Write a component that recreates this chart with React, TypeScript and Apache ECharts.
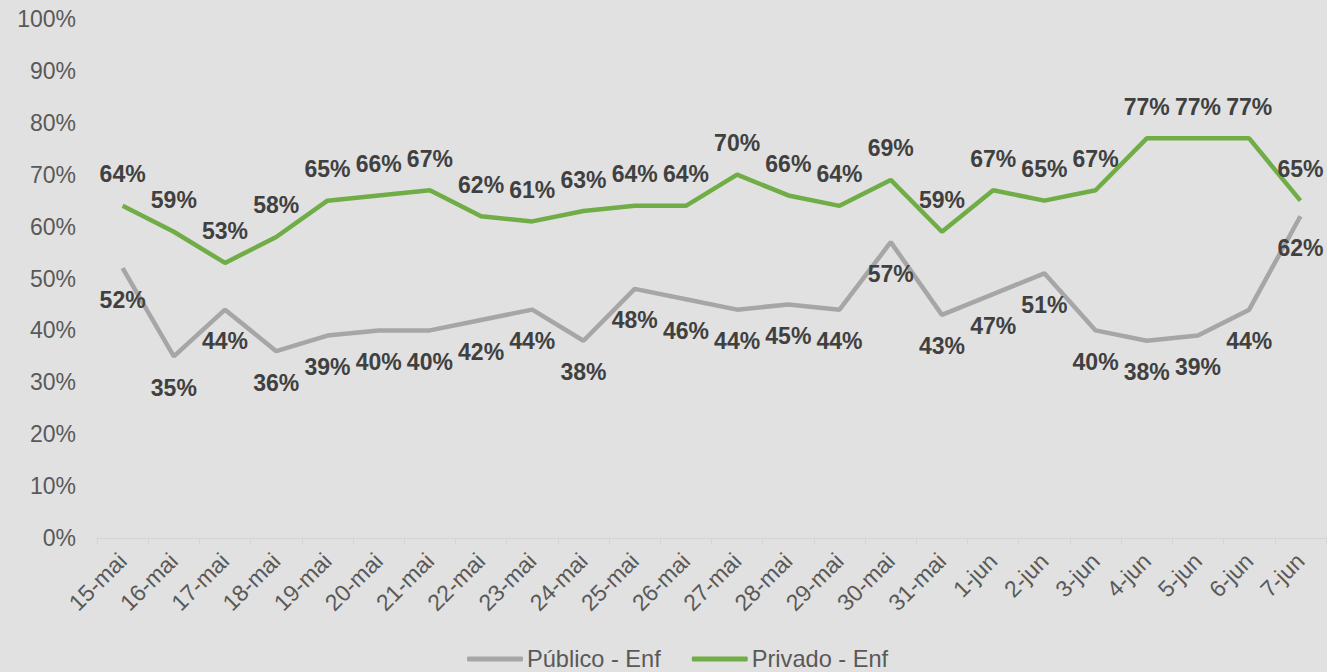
import React, { useEffect, useRef } from "react";
import * as echarts from "echarts";

const categories = [
  "15-mai", "16-mai", "17-mai", "18-mai", "19-mai", "20-mai", "21-mai", "22-mai",
  "23-mai", "24-mai", "25-mai", "26-mai", "27-mai", "28-mai", "29-mai", "30-mai",
  "31-mai", "1-jun", "2-jun", "3-jun", "4-jun", "5-jun", "6-jun", "7-jun",
];
const publico = [52, 35, 44, 36, 39, 40, 40, 42, 44, 38, 48, 46, 44, 45, 44, 57, 43, 47, 51, 40, 38, 39, 44, 62];
const privado = [64, 59, 53, 58, 65, 66, 67, 62, 61, 63, 64, 64, 70, 66, 64, 69, 59, 67, 65, 67, 77, 77, 77, 65];

const FONT = "'Liberation Sans', Arial, sans-serif";

export default function App() {
  const ref = useRef<HTMLDivElement>(null);
  useEffect(() => {
    if (!ref.current) return;
    const chart = echarts.init(ref.current, null, { renderer: "svg" });
    const labelStyle = {
      show: true,
      formatter: (p: any) => p.value + "%",
      fontFamily: FONT,
      fontSize: 23,
      fontWeight: "bold" as const,
      color: "#404040",
      distance: 20,
    };
    chart.setOption({
      animation: false,
      backgroundColor: "#e1e1e1",
      textStyle: { fontFamily: FONT },
      grid: { left: 97, right: 1, top: 19, bottom: 134 },
      legend: {
        top: 642,
        left: 462,
        itemWidth: 56,
        itemHeight: 5,
        itemGap: 31,
        icon: "roundRect",
        textStyle: { fontFamily: FONT, fontSize: 23.6, color: "#595959", padding: [0, 0, 0, -1] },
        data: ["Público - Enf", "Privado - Enf"],
      },
      xAxis: {
        type: "category",
        data: categories,
        boundaryGap: true,
        axisLine: { lineStyle: { color: "#d4d4d4", width: 1 } },
        axisTick: { show: true, length: 6, lineStyle: { color: "#d4d4d4" } },
        axisLabel: {
          rotate: 45,
          fontFamily: FONT,
          fontSize: 23,
          color: "#595959",
          margin: 19,
          interval: 0,
        },
      },
      yAxis: {
        type: "value",
        min: 0,
        max: 100,
        interval: 10,
        splitLine: { show: false },
        axisLine: { show: false },
        axisTick: { show: false },
        axisLabel: {
          formatter: "{value}%",
          fontFamily: FONT,
          fontSize: 23,
          color: "#595959",
          margin: 21,
        },
      },
      series: [
        {
          name: "Público - Enf",
          type: "line",
          data: publico,
          symbol: "circle",
          symbolSize: 0,
          lineStyle: { color: "#a6a6a6", width: 4.5 },
          itemStyle: { color: "#a6a6a6" },
          label: { ...labelStyle, position: "bottom" },
        },
        {
          name: "Privado - Enf",
          type: "line",
          data: privado,
          symbol: "circle",
          symbolSize: 0,
          lineStyle: { color: "#70ad47", width: 4.5 },
          itemStyle: { color: "#70ad47" },
          label: { ...labelStyle, position: "top" },
        },
      ],
    });
    return () => chart.dispose();
  }, []);
  return (
    <div
      ref={ref}
      style={{ position: "absolute", left: 0, top: 0, width: 1327, height: 672 }}
    />
  );
}
